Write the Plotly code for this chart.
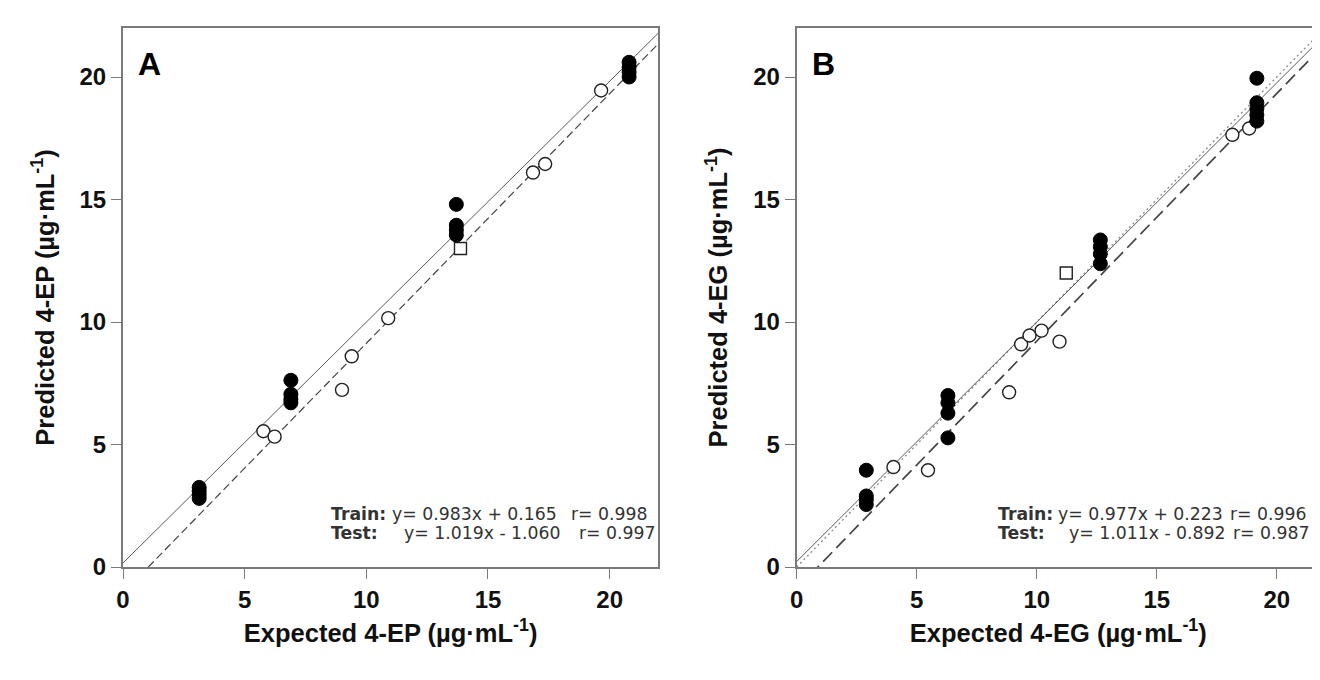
import plotly.graph_objects as go

# ---------------- data ----------------
# Panel A (4-EP)
a_train_x = [3.13, 3.13, 3.13, 3.13, 6.9, 6.9, 6.9, 6.9, 13.7, 13.7, 13.7, 13.7, 20.8, 20.8, 20.8, 20.8]
a_train_y = [2.8, 2.95, 3.1, 3.25, 6.7, 6.85, 7.05, 7.62, 13.55, 13.75, 13.95, 14.8, 20.0, 20.2, 20.4, 20.6]
a_test_x = [5.77, 6.23, 9.0, 9.4, 10.9, 16.85, 17.35, 19.65]
a_test_y = [5.54, 5.32, 7.23, 8.6, 10.16, 16.1, 16.45, 19.45]
a_test_sq_x = [13.87]
a_test_sq_y = [13.0]
a_fit_slope = [0.983, 1.019]
a_fit_icpt = [0.165, -1.060]
a_fit_r = [0.998, 0.997]

# Panel B (4-EG)
b_train_x = [2.9, 2.9, 2.9, 2.9, 6.3, 6.3, 6.3, 6.3, 12.65, 12.65, 12.65, 12.65, 19.17, 19.17, 19.17, 19.17, 19.17]
b_train_y = [2.55, 2.75, 2.9, 3.95, 5.27, 6.28, 6.7, 7.0, 12.38, 12.78, 13.07, 13.35, 18.2, 18.45, 18.7, 18.95, 19.95]
b_test_x = [4.03, 5.47, 8.85, 9.35, 9.7, 10.2, 10.95, 18.15, 18.85]
b_test_y = [4.08, 3.95, 7.13, 9.09, 9.45, 9.65, 9.2, 17.64, 17.9]
b_test_sq_x = [11.23]
b_test_sq_y = [12.0]
b_fit_slope = [0.977, 1.011]
b_fit_icpt = [0.223, -0.892]
b_fit_r = [0.996, 0.987]

tick_vals = [0, 5, 10, 15, 20]
tick_text = ["0", "5", "10", "15", "20"]

FONT = "Liberation Sans, Arial, sans-serif"
EQFONT = "DejaVu Sans, Verdana, sans-serif"
AXC = "#7a7a7a"

fig = go.Figure()


def add_panel(xa, ya, tx, ty, sx, sy, qx, qy, slope, icpt, xmax, identity):
    if identity:
        fig.add_trace(go.Scatter(x=[0, xmax], y=[0, xmax], mode="lines",
                                 line=dict(color="#8a8a8a", width=1.3, dash="2px,3px"),
                                 xaxis=xa, yaxis=ya, hoverinfo="skip"))
    fig.add_trace(go.Scatter(x=[0, xmax], y=[icpt[0], slope[0] * xmax + icpt[0]], mode="lines",
                             line=dict(color="#5a5a5a", width=1),
                             xaxis=xa, yaxis=ya, hoverinfo="skip"))
    fig.add_trace(go.Scatter(x=[0, xmax], y=[icpt[1], slope[1] * xmax + icpt[1]], mode="lines",
                             line=dict(color="#444444", width=1.2 if not identity else 1.7,
                                       dash="8px,4px" if not identity else "13px,6px"),
                             xaxis=xa, yaxis=ya, hoverinfo="skip"))
    fig.add_trace(go.Scatter(x=sx, y=sy, mode="markers",
                             marker=dict(symbol="circle", size=13, color="white",
                                         line=dict(color="#222222", width=1.4)),
                             xaxis=xa, yaxis=ya))
    fig.add_trace(go.Scatter(x=qx, y=qy, mode="markers",
                             marker=dict(symbol="square", size=12, color="white",
                                         line=dict(color="#222222", width=1.4)),
                             xaxis=xa, yaxis=ya))
    fig.add_trace(go.Scatter(x=tx, y=ty, mode="markers",
                             marker=dict(symbol="circle", size=14, color="black",
                                         line=dict(color="black", width=1)),
                             xaxis=xa, yaxis=ya))


add_panel("x", "y", a_train_x, a_train_y, a_test_x, a_test_y, a_test_sq_x, a_test_sq_y,
          a_fit_slope, a_fit_icpt, 22, False)
add_panel("x2", "y2", b_train_x, b_train_y, b_test_x, b_test_y, b_test_sq_x, b_test_sq_y,
          b_fit_slope, b_fit_icpt, 22, True)

axis_common = dict(showgrid=False, zeroline=False, showline=True, linecolor=AXC, linewidth=2,
                   ticks="outside", ticklen=10, tickwidth=1, tickcolor=AXC,
                   tickvals=tick_vals, ticktext=["<b>%s</b>" % t for t in tick_text],
                   tickfont=dict(family=FONT, size=24, color="#111111"))

title_font = dict(family=FONT, size=25.5, color="#111111")

fig.update_layout(
    width=1312, height=672,
    margin=dict(l=115, r=0, t=20, b=113),
    plot_bgcolor="white", paper_bgcolor="white",
    showlegend=False,
    xaxis=dict(axis_common, domain=[0, 0.4472], range=[0, 22], mirror=True, anchor="y",
               title=dict(text="<b>Expected 4-EP (µg·mL<sup>-1</sup>)</b>", font=title_font, standoff=12)),
    yaxis=dict(axis_common, domain=[0, 1], range=[0, 22], mirror=True, anchor="x",
               title=dict(text="<b>Predicted 4-EP (µg·mL<sup>-1</sup>)</b>", font=title_font, standoff=18)),
    xaxis2=dict(axis_common, domain=[0.5628, 1.0], range=[0, 21.8], mirror=True, anchor="y2",
                title=dict(text="<b>Expected 4-EG (µg·mL<sup>-1</sup>)</b>", font=title_font, standoff=12)),
    yaxis2=dict(axis_common, domain=[0, 1], range=[0, 22], mirror=False, anchor="x2",
                title=dict(text="<b>Predicted 4-EG (µg·mL<sup>-1</sup>)</b>", font=title_font, standoff=18)),
)

ann = []
ann.append(dict(text="<b>A</b>", x=0.55, y=20.55, xref="x", yref="y", xanchor="left", yanchor="middle",
                showarrow=False, font=dict(family=FONT, size=32, color="black")))
ann.append(dict(text="<b>B</b>", x=0.55, y=20.55, xref="x2", yref="y2", xanchor="left", yanchor="middle",
                showarrow=False, font=dict(family=FONT, size=32, color="black")))

eqf = dict(family=EQFONT, size=17.3, color="#333333")


def eq_row(xr, yr, y, label, lx, eq, ex, rtxt, rx):
    for txt, xx in ((label, lx), (eq, ex), (rtxt, rx)):
        ann.append(dict(text=txt, x=xx, y=y, xref=xr, yref=yr, xanchor="left", yanchor="middle",
                        showarrow=False, font=eqf))


def fmt_eq(s, c):
    sign = "+" if c >= 0 else "-"
    return "y= %.3fx %s %.3f" % (s, sign, abs(c))


eq_row("x", "y", 2.16, "<b>Train:</b>", 8.45, fmt_eq(a_fit_slope[0], a_fit_icpt[0]), 10.96,
       "r= %.3f" % a_fit_r[0], 18.32)
eq_row("x", "y", 1.38, "<b>Test:</b>", 8.45, fmt_eq(a_fit_slope[1], a_fit_icpt[1]), 11.45,
       "r= %.3f" % a_fit_r[1], 18.65)
eq_row("x2", "y2", 2.16, "<b>Train:</b>", 8.3, fmt_eq(b_fit_slope[0], b_fit_icpt[0]), 10.8,
       "r= %.3f" % b_fit_r[0], 17.95)
eq_row("x2", "y2", 1.38, "<b>Test:</b>", 8.3, fmt_eq(b_fit_slope[1], b_fit_icpt[1]), 11.26,
       "r= %.3f" % b_fit_r[1], 18.1)
fig.update_layout(annotations=ann)

fig.write_html("out.html")
